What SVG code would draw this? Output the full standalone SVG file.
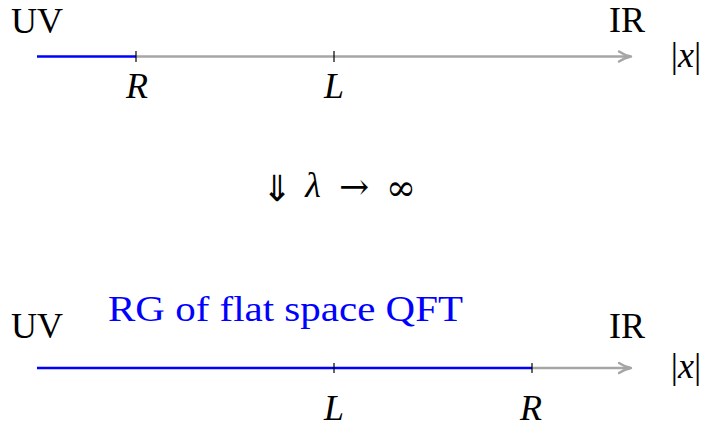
<svg xmlns="http://www.w3.org/2000/svg" width="707" height="428" viewBox="0 0 707 428">
<style>
.t{font-family:"Liberation Serif","DejaVu Serif",serif;font-size:36px;fill:#000}
.i{font-style:italic}
.b{fill:#0000ff}
.s{font-family:"DejaVu Serif","Liberation Serif",serif}
.ds{font-family:"DejaVu Sans","Liberation Sans",sans-serif}
.gray{stroke:#a6a6a6;stroke-width:2.4;fill:none}
.blue{stroke:#0000ff;stroke-width:2.6;fill:none}
.tick{stroke:#000;stroke-width:1.2}
.head{stroke:#a6a6a6;stroke-width:2.4;fill:none;stroke-linecap:round;stroke-linejoin:round}
</style>
<rect width="707" height="428" fill="#fff"/>
<g id="connectors">
<line class="gray" x1="136" y1="56.5" x2="630" y2="56.5"/>
<line class="blue" x1="37" y1="56.5" x2="136" y2="56.5"/>
<path class="head" d="M619 51.5 Q625 55.5 631 56.5 Q625 57.5 619 61.5"/>
<line class="gray" x1="532" y1="368" x2="630" y2="368"/>
<line class="blue" x1="37" y1="368" x2="532" y2="368"/>
<path class="head" d="M619 363 Q625 367 631 368 Q625 369 619 373"/>
</g>
<g id="top-axis">
<line class="tick" x1="136" y1="51" x2="136" y2="62"/>
<line class="tick" x1="334" y1="51" x2="334" y2="62"/>
<text class="t" x="11" y="33">UV</text>
<text class="t" x="609" y="32">IR</text>
<text class="t" x="686" y="67" text-anchor="middle">|<tspan class="i">x</tspan>|</text>
<text class="t i" x="137" y="98" text-anchor="middle">R</text>
<text class="t i" x="334" y="98" text-anchor="middle">L</text>
</g>
<g id="limit">
<text class="t ds" x="277" y="201" text-anchor="middle" font-size="46">⇓</text>
<text class="t i" x="313" y="197" text-anchor="middle">λ</text>
<text class="t s" x="354" y="199" text-anchor="middle" font-size="44">→</text>
<text class="t s" x="401" y="200" text-anchor="middle" font-size="48">∞</text>
</g>
<g id="bottom-axis">
<line class="tick" x1="334" y1="363" x2="334" y2="373"/>
<line class="tick" x1="532" y1="363" x2="532" y2="373"/>
<text class="t b" x="108" y="321" font-size="40" textLength="355" lengthAdjust="spacingAndGlyphs">RG of flat space QFT</text>
<text class="t" x="11" y="338">UV</text>
<text class="t" x="609" y="338">IR</text>
<text class="t" x="686" y="378" text-anchor="middle">|<tspan class="i">x</tspan>|</text>
<text class="t i" x="334" y="420" text-anchor="middle">L</text>
<text class="t i" x="531" y="420" text-anchor="middle">R</text>
</g>
</svg>
